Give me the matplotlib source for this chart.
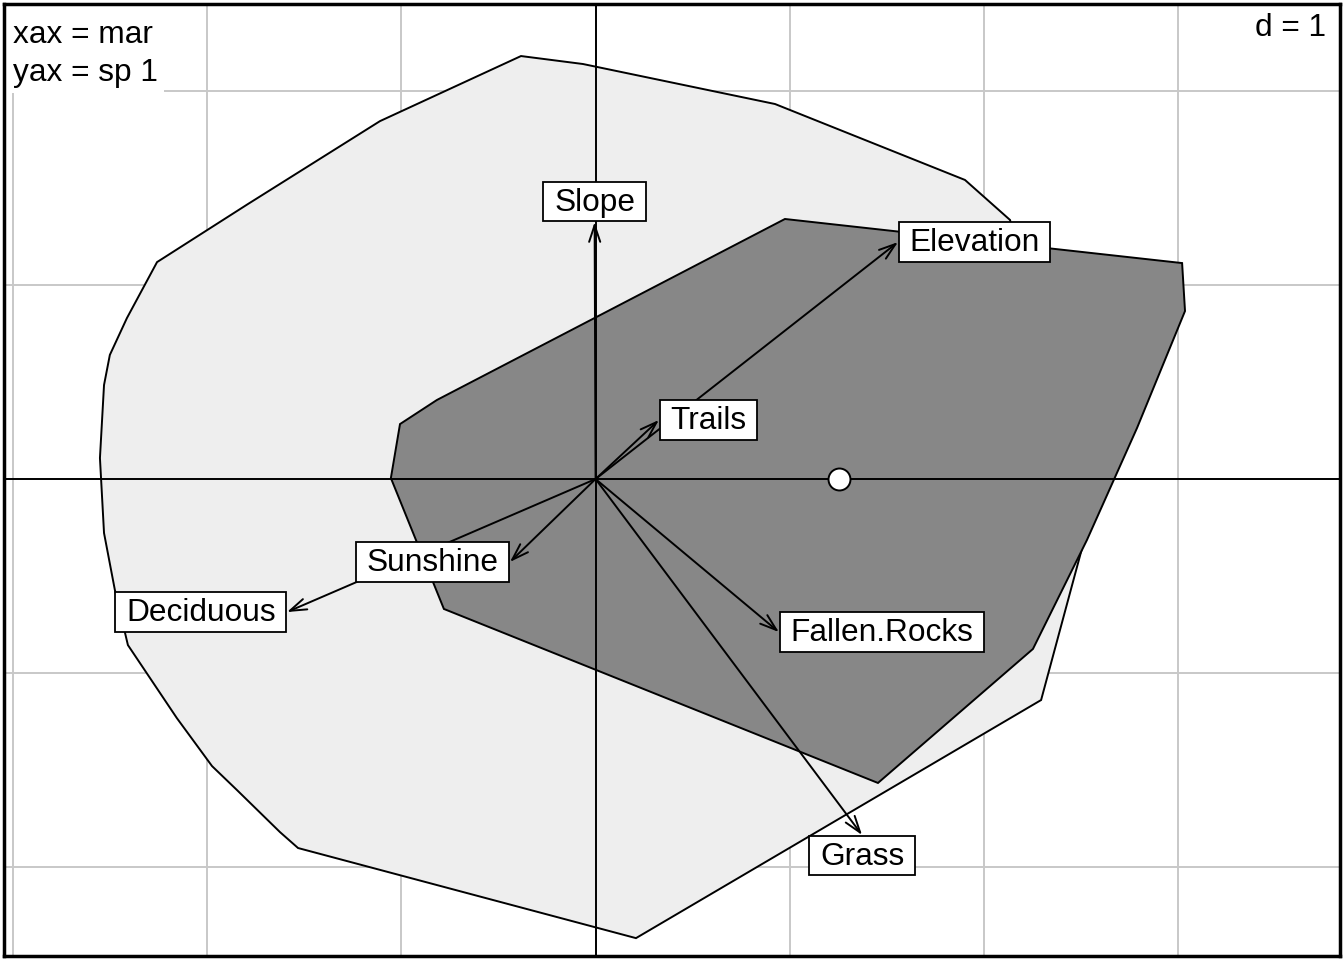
import matplotlib
matplotlib.use("Agg")
import matplotlib.pyplot as plt
from matplotlib.path import Path
from matplotlib.patches import Polygon, Rectangle

plt.rcParams['font.family'] = ['Liberation Sans', 'DejaVu Sans']

# convex hulls of the two groups (light = all sites, dark = selected sites)
hull_all_x = [-0.384, -0.065, 0.924, 1.902, 2.134, 2.530, 2.294, 0.208, -1.532, -1.625,
              -1.847, -1.975, -2.156, -2.408, -2.475, -2.531, -2.552, -2.531, -2.501,
              -2.413, -2.258, -1.790, -1.110]
hull_all_y = [2.178, 2.137, 1.931, 1.540, 1.334, -0.263, -1.138, -2.364, -1.900, -1.818,
              -1.601, -1.478, -1.231, -0.855, -0.572, -0.278, 0.108, 0.484, 0.639,
              0.829, 1.117, 1.416, 1.843]
hull_used_x = [0.975, 3.020, 3.035, 2.788, 2.530, 2.252, 1.454, -0.781, -1.054, -1.007, -0.817]
hull_used_y = [1.339, 1.112, 0.865, 0.263, -0.314, -0.875, -1.565, -0.669, 0.005, 0.283, 0.407]

# environmental variables (arrow ends)
variables = ['Slope', 'Elevation', 'Trails', 'Sunshine', 'Deciduous', 'Fallen.Rocks', 'Grass']
var_x = [-0.005, 1.557, 0.326, -0.441, -1.589, 0.944, 1.372]
var_y = [1.323, 1.220, 0.304, -0.427, -0.685, -0.788, -1.833]

# marginality point
mar_x = [1.253]
mar_y = [0.0]

FS = 22.8
PADX = 0.34
PADY_TOP = 0.19
PADY_BOT = 0.11
LW = 1.4


def label_box(x0, y0, width, height, mutation_size):
    px = PADX * mutation_size
    pt = PADY_TOP * mutation_size
    pb = PADY_BOT * mutation_size
    verts = [(x0 - px, y0 - pb), (x0 + width + px, y0 - pb),
             (x0 + width + px, y0 + height + pt), (x0 - px, y0 + height + pt),
             (x0 - px, y0 - pb)]
    return Path(verts, closed=True)


fig = plt.figure(figsize=(13.44, 9.6), dpi=100)
ax = fig.add_axes([4 / 1344, 4 / 960, 1336 / 1344, 952 / 960])
ax.set_xlim(-3.046, 3.833)
ax.set_ylim(-2.456, 2.446)

ax.set_xticks(range(-3, 4))
ax.set_yticks(range(-2, 3))
ax.tick_params(length=0, labelbottom=False, labelleft=False)
ax.grid(True, color='#c8c8c8', lw=1.4, zorder=0)
ax.set_axisbelow(True)
for s in ax.spines.values():
    s.set_linewidth(2.5)
    s.set_zorder(10)

ax.add_patch(Polygon(list(zip(hull_all_x, hull_all_y)), closed=True,
                     facecolor='#eeeeee', edgecolor='black', lw=LW, zorder=2))
ax.add_patch(Polygon(list(zip(hull_used_x, hull_used_y)), closed=True,
                     facecolor='#878787', edgecolor='black', lw=LW, zorder=3))

ax.axhline(0, color='black', lw=LW, zorder=4)
ax.axvline(0, color='black', lw=LW, zorder=4)

ax.scatter(mar_x, mar_y, s=250, facecolor='white', edgecolor='black', lw=LW, zorder=5)

padx_pt = PADX * FS + 0.5
for name, x, y in zip(variables, var_x, var_y):
    ax.annotate('', xy=(x, y), xytext=(0, 0),
                arrowprops=dict(arrowstyle='->,head_length=0.6,head_width=0.2',
                                mutation_scale=20, shrinkA=0, shrinkB=0,
                                color='black', lw=LW),
                zorder=6)
    if abs(x) >= abs(y):
        ha = 'left' if x > 0 else 'right'
        off = (padx_pt if x > 0 else -padx_pt, -1)
        va = 'center'
    else:
        va = 'bottom' if y > 0 else 'top'
        off = (0, PADY_BOT * FS + 0.5 if y > 0 else -(PADY_TOP * FS + 0.5))
        ha = 'center'
    ax.annotate(name, xy=(x, y), xytext=off, textcoords='offset points',
                ha=ha, va=va, fontsize=FS, zorder=7,
                bbox=dict(boxstyle=label_box, facecolor='white',
                          edgecolor='black', lw=1.3))

# axis info box, top left
ax.add_patch(Rectangle((0, 0.9065), 0.12, 0.0935, transform=ax.transAxes,
                       facecolor='white', edgecolor='none', zorder=8))
ax.text(0.007, 0.959, 'xax = mar', transform=ax.transAxes,
        ha='left', va='baseline', fontsize=FS, zorder=9)
ax.text(0.007, 0.919, 'yax = sp 1', transform=ax.transAxes,
        ha='left', va='baseline', fontsize=FS, zorder=9)
ax.text(0.9895, 0.9665, 'd = 1', transform=ax.transAxes, ha='right', va='baseline',
        fontsize=FS, zorder=9,
        bbox=dict(boxstyle='square,pad=0.1', facecolor='white', edgecolor='none'))

fig.savefig('out.png', dpi=100)
